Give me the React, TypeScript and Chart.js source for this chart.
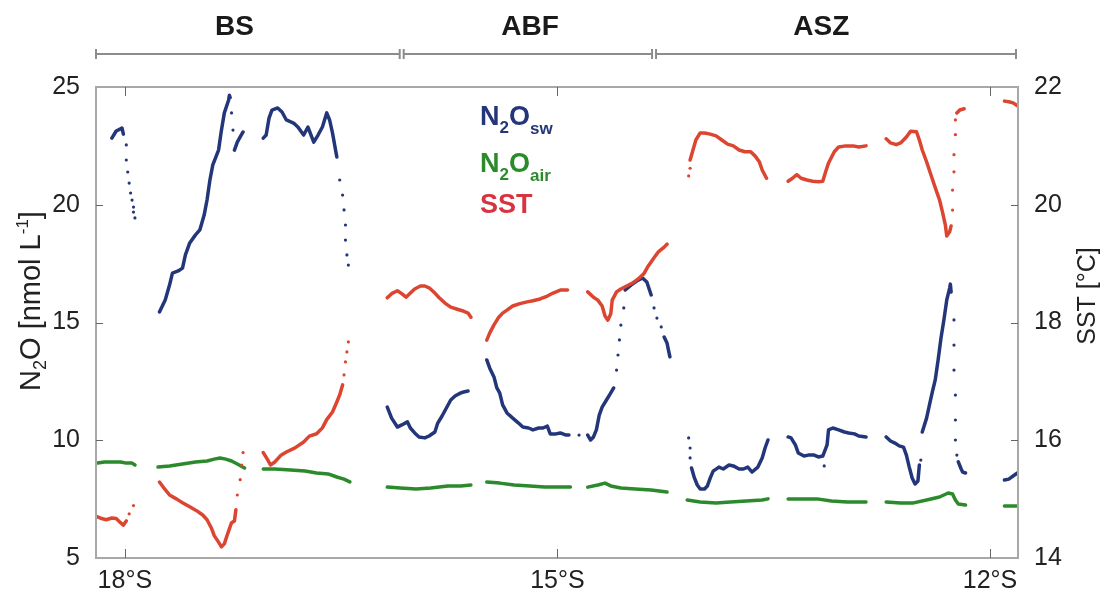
import React, { useEffect, useRef } from "react";
import { Chart, registerables } from "chart.js";

Chart.register(...registerables);

type P = [number, number];

const FONT = '"Liberation Sans", Arial, Helvetica, sans-serif';

// ---- N2O seawater (nmol/L) vs latitude (°S): continuous stretches ----
const swBS1: P[] = [[18.09, 22.83], [18.06, 23.13], [18.03, 23.22], [18.02, 23.26], [18.01, 23.0]];
const swBS2: P[] = [[17.76, 15.45], [17.72, 15.96], [17.69, 16.59], [17.67, 17.1], [17.63, 17.19], [17.6, 17.31], [17.58, 17.87], [17.55, 18.38], [17.51, 18.72], [17.48, 18.93], [17.45, 19.56], [17.43, 20.2], [17.41, 21.05], [17.39, 21.69], [17.35, 22.32], [17.33, 23.17], [17.31, 23.9], [17.28, 24.45], [17.275, 24.65], [17.27, 24.55]];
const swBS3: P[] = [[17.24, 22.32], [17.22, 22.66], [17.2, 22.88], [17.18, 23.09]];
const swBS4: P[] = [[17.04, 22.83], [17.02, 22.96], [17.0, 23.68], [16.98, 24.02], [16.94, 24.11], [16.91, 23.94], [16.88, 23.6], [16.83, 23.47], [16.8, 23.3], [16.76, 22.96], [16.73, 23.3], [16.69, 22.66], [16.66, 22.96], [16.63, 23.3], [16.6, 23.9], [16.58, 23.6], [16.56, 23.05], [16.53, 22.03]];
const swABF1: P[] = [[16.18, 11.41], [16.15, 10.94], [16.11, 10.56], [16.08, 10.65], [16.04, 10.78], [16.02, 10.52], [15.99, 10.31], [15.96, 10.14], [15.92, 10.1], [15.89, 10.18], [15.85, 10.35], [15.83, 10.73], [15.8, 11.03], [15.77, 11.37], [15.74, 11.71], [15.71, 11.88], [15.67, 12.01], [15.65, 12.05], [15.62, 12.09]];
const swABF2: P[] = [[15.49, 13.41], [15.47, 13.07], [15.44, 12.69], [15.42, 12.22], [15.4, 12.0], [15.38, 11.5], [15.35, 11.16], [15.31, 10.94], [15.27, 10.73], [15.24, 10.56], [15.2, 10.52], [15.17, 10.44], [15.13, 10.52], [15.1, 10.52], [15.07, 10.6], [15.05, 10.27], [15.01, 10.27], [14.98, 10.31], [14.94, 10.22], [14.92, 10.22]];
const swABF3: P[] = [[14.79, 10.22], [14.77, 10.01], [14.75, 10.14], [14.73, 10.44], [14.71, 11.07], [14.69, 11.41], [14.66, 11.71], [14.63, 12.01], [14.61, 12.22]];
const swABF4: P[] = [[14.53, 16.38], [14.49, 16.59], [14.45, 16.76], [14.41, 16.89], [14.38, 16.72], [14.35, 16.17]];
const swABF5: P[] = [[14.26, 14.38], [14.24, 14.13], [14.23, 13.83], [14.22, 13.54]];
const swASZ1: P[] = [[14.07, 8.82], [14.05, 8.4], [14.03, 8.1], [14.01, 7.93], [13.98, 7.93], [13.96, 8.06], [13.94, 8.4], [13.92, 8.69], [13.88, 8.86], [13.85, 8.78], [13.81, 8.95], [13.78, 8.91], [13.74, 8.78], [13.71, 8.78], [13.68, 8.86], [13.65, 8.65], [13.61, 8.86], [13.58, 9.25], [13.56, 9.67], [13.54, 10.01]];
const swASZ2: P[] = [[13.4, 10.14], [13.38, 10.1], [13.35, 9.8], [13.33, 9.46], [13.29, 9.33], [13.26, 9.37], [13.22, 9.37], [13.19, 9.29], [13.16, 9.33], [13.13, 9.8], [13.12, 10.44], [13.09, 10.52], [13.05, 10.44], [13.01, 10.35], [12.98, 10.31], [12.94, 10.27], [12.91, 10.18], [12.86, 10.14]];
const swASZ3: P[] = [[12.72, 10.14], [12.69, 9.97], [12.66, 9.88], [12.63, 9.76], [12.6, 9.71], [12.58, 9.37], [12.56, 8.86], [12.54, 8.4], [12.52, 8.14], [12.5, 8.27], [12.49, 8.95]];
const swASZ4: P[] = [[12.47, 10.35], [12.44, 10.94], [12.42, 11.5], [12.4, 12.05], [12.38, 12.56], [12.36, 13.41], [12.34, 14.34], [12.32, 15.11], [12.3, 15.96], [12.28, 16.46], [12.275, 16.63], [12.27, 16.3]];
const swASZ5: P[] = [[12.22, 9.08], [12.2, 8.78], [12.19, 8.65], [12.17, 8.61]];
const swASZ6: P[] = [[11.9, 8.31], [11.87, 8.35], [11.84, 8.48], [11.81, 8.61]];
// sparse N2O seawater samples in the steep transitions
const swDots: P[] = [[17.99, 22.54], [17.99, 21.9], [17.98, 21.39], [17.97, 20.92], [17.96, 20.5], [17.95, 20.2], [17.94, 19.9], [17.94, 19.69], [17.93, 19.44], [17.26, 23.9], [17.25, 23.17], [16.51, 21.05], [16.49, 20.41], [16.48, 19.78], [16.47, 19.14], [16.47, 18.5], [16.46, 17.87], [16.45, 17.44], [14.85, 10.22], [14.59, 12.98], [14.58, 13.62], [14.57, 14.26], [14.56, 14.89], [14.54, 15.62], [14.33, 15.62], [14.31, 15.19], [14.28, 14.81], [14.09, 10.1], [14.08, 9.67], [14.08, 9.25], [13.15, 8.91], [12.48, 9.16], [12.25, 15.11], [12.25, 14.04], [12.25, 12.98], [12.24, 11.92], [12.24, 10.86], [12.24, 10.01], [12.23, 9.37]];

// ---- N2O air-equilibrium (nmol/L) ----
const air1: P[] = [[18.19, 9.03], [18.14, 9.08], [18.09, 9.08], [18.03, 9.08], [17.99, 9.03], [17.95, 9.03], [17.93, 8.95]];
const air2: P[] = [[17.77, 8.86], [17.69, 8.91], [17.6, 8.99], [17.51, 9.08], [17.43, 9.12], [17.38, 9.2], [17.34, 9.25], [17.3, 9.2], [17.26, 9.12], [17.22, 8.99], [17.17, 8.82]];
const air3: P[] = [[17.04, 8.78], [16.96, 8.78], [16.85, 8.74], [16.75, 8.69], [16.67, 8.61], [16.59, 8.57], [16.53, 8.44], [16.48, 8.35], [16.44, 8.23]];
const air4: P[] = [[16.18, 8.01], [16.09, 7.97], [15.98, 7.93], [15.88, 7.97], [15.76, 8.06], [15.67, 8.06], [15.6, 8.1]];
const air5: P[] = [[15.49, 8.23], [15.4, 8.18], [15.3, 8.1], [15.19, 8.06], [15.09, 8.01], [14.99, 8.01], [14.91, 8.01]];
const air6: P[] = [[14.79, 8.01], [14.72, 8.1], [14.67, 8.18], [14.63, 8.06], [14.56, 7.97], [14.46, 7.93], [14.35, 7.89], [14.24, 7.8]];
const air7: P[] = [[14.1, 7.46], [14.01, 7.38], [13.9, 7.34], [13.8, 7.38], [13.69, 7.42], [13.58, 7.46], [13.54, 7.51]];
const air8: P[] = [[13.4, 7.51], [13.31, 7.51], [13.2, 7.51], [13.1, 7.42], [12.99, 7.38], [12.86, 7.38]];
const air9: P[] = [[12.72, 7.38], [12.62, 7.34], [12.53, 7.34], [12.44, 7.46], [12.35, 7.59], [12.29, 7.76], [12.26, 7.72], [12.24, 7.46], [12.22, 7.29], [12.17, 7.25]];
const air10: P[] = [[11.9, 7.21], [11.81, 7.21]];

// ---- SST (°C) ----
const sst1: P[] = [[18.19, 14.7], [18.16, 14.67], [18.13, 14.65], [18.09, 14.68], [18.06, 14.67], [18.03, 14.6], [18.01, 14.56], [17.99, 14.63]];
const sst2: P[] = [[17.76, 15.29], [17.72, 15.16], [17.69, 15.07], [17.64, 15.0], [17.6, 14.94], [17.55, 14.87], [17.5, 14.8], [17.46, 14.73], [17.43, 14.65], [17.4, 14.51], [17.38, 14.38], [17.35, 14.27], [17.33, 14.19], [17.31, 14.24], [17.29, 14.39], [17.26, 14.6], [17.24, 14.63], [17.23, 14.82]];
const sst3: P[] = [[17.04, 15.79], [17.01, 15.67], [16.99, 15.58], [16.96, 15.63], [16.92, 15.74], [16.88, 15.8], [16.82, 15.87], [16.76, 15.97], [16.72, 16.07], [16.67, 16.11], [16.63, 16.21], [16.6, 16.35], [16.56, 16.48], [16.53, 16.65], [16.51, 16.77], [16.49, 16.94]];
const sst4: P[] = [[16.18, 18.42], [16.15, 18.49], [16.11, 18.54], [16.08, 18.49], [16.05, 18.43], [16.02, 18.5], [15.99, 18.57], [15.95, 18.62], [15.92, 18.62], [15.89, 18.59], [15.85, 18.5], [15.82, 18.42], [15.78, 18.33], [15.74, 18.26], [15.7, 18.23], [15.66, 18.2], [15.62, 18.16], [15.6, 18.09]];
const sst5: P[] = [[15.49, 17.7], [15.47, 17.82], [15.44, 17.96], [15.41, 18.08], [15.38, 18.16], [15.35, 18.21], [15.31, 18.28], [15.26, 18.32], [15.21, 18.35], [15.17, 18.37], [15.12, 18.4], [15.07, 18.45], [15.03, 18.5], [14.98, 18.55], [14.93, 18.55]];
const sst6: P[] = [[14.79, 18.52], [14.75, 18.43], [14.72, 18.38], [14.69, 18.28], [14.67, 18.11], [14.65, 18.04], [14.63, 18.15], [14.62, 18.38], [14.59, 18.52], [14.56, 18.57], [14.52, 18.62], [14.48, 18.67], [14.44, 18.74], [14.4, 18.83], [14.37, 18.96], [14.33, 19.1], [14.3, 19.2], [14.26, 19.28], [14.24, 19.33]];
const sst7: P[] = [[14.08, 20.76], [14.06, 20.93], [14.04, 21.1], [14.01, 21.22], [13.98, 21.22], [13.94, 21.2], [13.9, 21.17], [13.86, 21.1], [13.82, 21.03], [13.78, 21.0], [13.74, 20.93], [13.7, 20.9], [13.66, 20.9], [13.63, 20.83], [13.6, 20.73], [13.58, 20.59], [13.55, 20.45]];
const sst8: P[] = [[13.4, 20.4], [13.37, 20.45], [13.34, 20.51], [13.31, 20.45], [13.27, 20.42], [13.23, 20.4], [13.19, 20.39], [13.16, 20.4], [13.14, 20.56], [13.12, 20.71], [13.08, 20.9], [13.05, 20.98], [13.0, 21.0], [12.95, 21.0], [12.91, 20.98], [12.86, 21.0]];
const sst9: P[] = [[12.72, 21.12], [12.69, 21.05], [12.65, 21.02], [12.62, 21.05], [12.58, 21.15], [12.55, 21.25], [12.51, 21.24], [12.49, 21.1], [12.47, 20.93], [12.44, 20.73], [12.41, 20.51], [12.38, 20.29], [12.35, 20.08], [12.33, 19.88], [12.31, 19.66], [12.3, 19.47], [12.28, 19.54], [12.27, 19.64]];
const sst10: P[] = [[12.23, 21.56], [12.21, 21.61], [12.18, 21.63]];
const sst11: P[] = [[11.9, 21.76], [11.87, 21.75], [11.84, 21.73], [11.81, 21.68]];
const sstDots: P[] = [[17.97, 14.75], [17.94, 14.89], [17.22, 15.07], [17.2, 15.33], [17.19, 15.58], [17.18, 15.79], [16.48, 17.11], [16.47, 17.33], [16.46, 17.5], [16.45, 17.67], [14.09, 20.49], [14.08, 20.62], [12.26, 19.91], [12.26, 20.25], [12.25, 20.56], [12.25, 20.85], [12.24, 21.19], [12.24, 21.44]];

// ---- axes / annotation values ----
const latTicks = [18, 15, 12];
const n2oTicks = [5, 10, 15, 20, 25];
const sstTicks = [14, 16, 18, 20, 22];
const regionNames = ["BS", "ABF", "ASZ"];
const regionBounds = [18.2, 16.08, 14.33, 11.82];
const regionLabelLat = [17.24, 15.19, 13.17];

const C_SW = "#24367a";
const C_AIR = "#2b8a2b";
const C_SST = "#dc4530";

const joinSegments = (segs: P[][]) => {
  const out: { x: number; y: number | null }[] = [];
  segs.forEach((s, i) => {
    if (i > 0) out.push({ x: (segs[i - 1][segs[i - 1].length - 1][0] + s[0][0]) / 2, y: null });
    s.forEach(([x, y]) => out.push({ x, y }));
  });
  return out;
};
const toPts = (s: P[]) => s.map(([x, y]) => ({ x, y }));

type Part = { t: string; size: number; dy?: number; bold?: boolean };
function drawRich(ctx: CanvasRenderingContext2D, parts: Part[], x: number, y: number, align: "left" | "center", color: string) {
  const fontOf = (p: Part) => `${p.bold ? "bold " : ""}${p.size}px ${FONT}`;
  let total = 0;
  const widths = parts.map((p) => {
    ctx.font = fontOf(p);
    const w = ctx.measureText(p.t).width;
    total += w;
    return w;
  });
  let cx = align === "center" ? x - total / 2 : x;
  ctx.fillStyle = color;
  ctx.textBaseline = "alphabetic";
  ctx.textAlign = "left";
  parts.forEach((p, i) => {
    ctx.font = fontOf(p);
    ctx.fillText(p.t, cx, y + (p.dy || 0));
    cx += widths[i];
  });
}

const decor = {
  id: "decor",
  afterDraw(chart: any) {
    const { ctx, chartArea: a, scales } = chart;
    const xs = scales.x, ys = scales.y, ys2 = scales.y2;
    ctx.save();
    // frame
    ctx.strokeStyle = "#a8a8a8";
    ctx.lineWidth = 2;
    ctx.strokeRect(a.left, a.top, a.right - a.left, a.bottom - a.top);
    // inward ticks
    ctx.strokeStyle = "#666";
    ctx.lineWidth = 1;
    ctx.beginPath();
    latTicks.forEach((v) => {
      const px = Math.round(xs.getPixelForValue(v)) + 0.5;
      ctx.moveTo(px, a.bottom); ctx.lineTo(px, a.bottom - 9);
      ctx.moveTo(px, a.top); ctx.lineTo(px, a.top + 9);
    });
    n2oTicks.slice(1, -1).forEach((v) => {
      const py = Math.round(ys.getPixelForValue(v)) + 0.5;
      ctx.moveTo(a.left, py); ctx.lineTo(a.left + 7, py);
    });
    sstTicks.slice(1, -1).forEach((v) => {
      const py = Math.round(ys2.getPixelForValue(v)) + 0.5;
      ctx.moveTo(a.right, py); ctx.lineTo(a.right - 7, py);
    });
    ctx.stroke();

    // region brackets
    ctx.strokeStyle = "#8c8c8c";
    ctx.lineWidth = 2;
    const by = 54;
    for (let i = 0; i < regionNames.length; i++) {
      const x0 = xs.getPixelForValue(regionBounds[i]) + (i === 0 ? 0 : 2);
      const x1 = xs.getPixelForValue(regionBounds[i + 1]) - (i === regionNames.length - 1 ? 0 : 2);
      ctx.beginPath();
      ctx.moveTo(x0, by); ctx.lineTo(x1, by);
      ctx.moveTo(x0, by - 5); ctx.lineTo(x0, by + 5);
      ctx.moveTo(x1, by - 5); ctx.lineTo(x1, by + 5);
      ctx.stroke();
      ctx.font = `bold 28px ${FONT}`;
      ctx.fillStyle = "#1a1a1a";
      ctx.textAlign = "center";
      ctx.textBaseline = "middle";
      ctx.fillText(regionNames[i], xs.getPixelForValue(regionLabelLat[i]), 27);
    }

    // in-plot legend
    drawRich(ctx, [{ t: "N", size: 27, bold: true }, { t: "2", size: 17, dy: 8, bold: true }, { t: "O", size: 27, bold: true }, { t: "sw", size: 17, dy: 9, bold: true }], 480, 125, "left", C_SW);
    drawRich(ctx, [{ t: "N", size: 27, bold: true }, { t: "2", size: 17, dy: 8, bold: true }, { t: "O", size: 27, bold: true }, { t: "air", size: 17, dy: 9, bold: true }], 480, 172, "left", C_AIR);
    drawRich(ctx, [{ t: "SST", size: 27, bold: true }], 480, 213, "left", "#d8333f");

    // axis titles
    ctx.save();
    ctx.translate(30, 301);
    ctx.rotate(-Math.PI / 2);
    drawRich(ctx, [{ t: "N", size: 29 }, { t: "2", size: 18, dy: 6 }, { t: "O [nmol L", size: 29 }, { t: "-1", size: 17, dy: -12 }, { t: "]", size: 29 }], 0, 10, "center", "#222");
    ctx.restore();
    ctx.save();
    ctx.translate(1086, 296);
    ctx.rotate(-Math.PI / 2);
    drawRich(ctx, [{ t: "SST [°C]", size: 25 }], 0, 9, "center", "#222");
    ctx.restore();

    ctx.restore();
  },
};

export default function App() {
  const ref = useRef<HTMLCanvasElement>(null);
  useEffect(() => {
    if (!ref.current) return;
    const lineDs = (label: string, data: any[], color: string, axis: string) => ({
      label, data, yAxisID: axis, showLine: true, borderColor: color, backgroundColor: color,
      borderWidth: 3.5, borderJoinStyle: "round", borderCapStyle: "round", pointRadius: 0, tension: 0, spanGaps: false,
    });
    const dotDs = (label: string, data: any[], color: string, axis: string) => ({
      label, data, yAxisID: axis, showLine: false, borderColor: color, backgroundColor: color,
      pointRadius: 1.6, pointBorderWidth: 0,
    });
    const tickFont = { size: 25, family: FONT };
    const chart = new Chart(ref.current, {
      type: "scatter",
      data: {
        datasets: [
          lineDs("SST", joinSegments([sst1, sst2, sst3, sst4, sst5, sst6, sst7, sst8, sst9, sst10, sst11]), C_SST, "y2"),
          dotDs("SST transit", toPts(sstDots), C_SST, "y2"),
          lineDs("N2O air", joinSegments([air1, air2, air3, air4, air5, air6, air7, air8, air9, air10]), C_AIR, "y"),
          lineDs("N2O sw", joinSegments([swBS1, swBS2, swBS3, swBS4, swABF1, swABF2, swABF3, swABF4, swABF5, swASZ1, swASZ2, swASZ3, swASZ4, swASZ5, swASZ6]), C_SW, "y"),
          dotDs("N2O sw transit", toPts(swDots), C_SW, "y"),
        ] as any,
      },
      options: {
        responsive: false,
        animation: false,
        layout: { padding: { top: 87, left: 0, right: 0, bottom: 0 } },
        plugins: { legend: { display: false }, tooltip: { enabled: false } },
        scales: {
          x: {
            type: "linear", min: 11.806, max: 18.2, reverse: true,
            grid: { display: false }, border: { display: false },
            afterBuildTicks: (s: any) => { s.ticks = latTicks.map((v) => ({ value: v })); },
            afterFit: (s: any) => { s.height = 35; },
            ticks: { callback: (v: any) => `${v}°S`, font: tickFont, color: "#222", padding: 0, autoSkip: false, maxRotation: 0 },
          },
          y: {
            position: "left", min: 5, max: 25,
            grid: { display: false }, border: { display: false },
            afterBuildTicks: (s: any) => { s.ticks = n2oTicks.map((v) => ({ value: v })); },
            afterFit: (s: any) => { s.width = 96; },
            ticks: { font: tickFont, color: "#222", padding: 8 },
          },
          y2: {
            position: "right", min: 14, max: 22,
            grid: { display: false }, border: { display: false },
            afterBuildTicks: (s: any) => { s.ticks = sstTicks.map((v) => ({ value: v })); },
            afterFit: (s: any) => { s.width = 90; },
            ticks: { font: tickFont, color: "#222", padding: 8 },
          },
        } as any,
      },
      plugins: [decor],
    });
    return () => chart.destroy();
  }, []);
  return (
    <div style={{ position: "fixed", left: 0, top: 0, width: 1108, height: 593, background: "#fff" }}>
      <canvas ref={ref} width={1108} height={593} style={{ display: "block" }} />
    </div>
  );
}
